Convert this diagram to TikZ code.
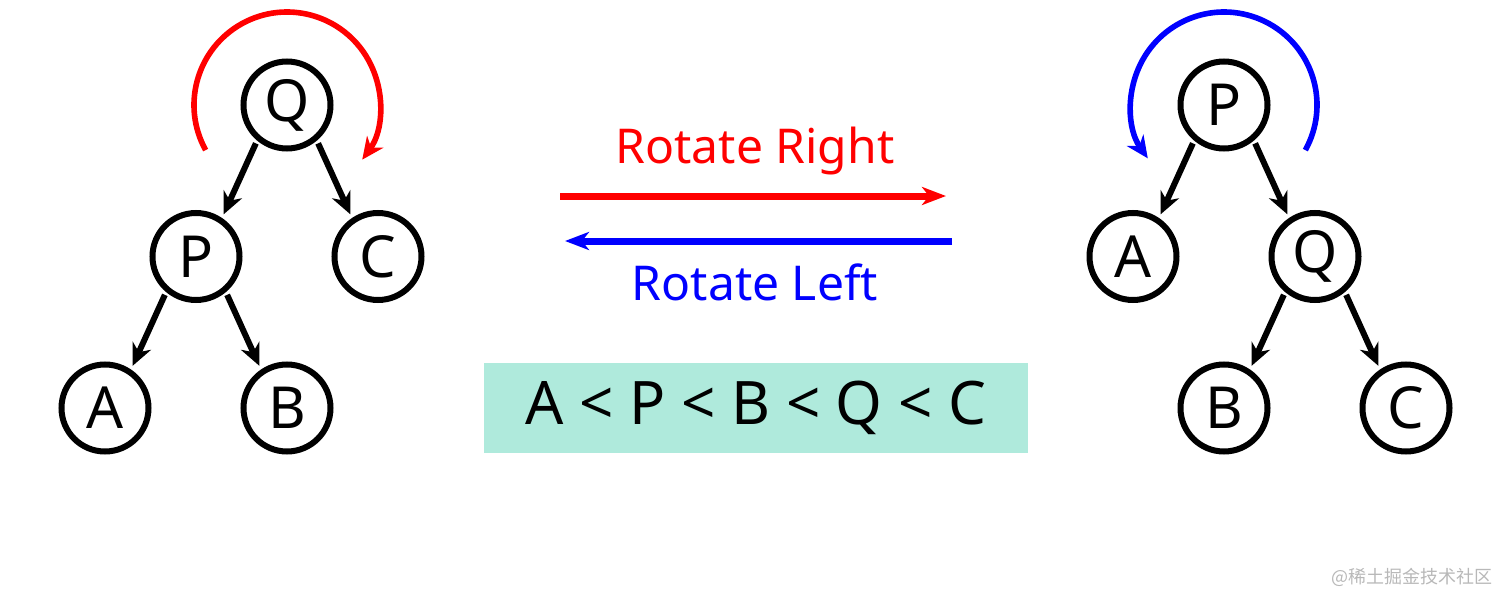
\documentclass[tikz,border=0pt]{standalone}
\usepackage{fontspec}
\setmainfont{Noto Sans}
\newfontfamily\cjk{Noto Sans CJK SC}
\usetikzlibrary{positioning,arrows.meta}
\definecolor{mint}{RGB}{175,234,220}

\begin{document}
\begin{tikzpicture}[x=0.5pt,y=0.5pt,
    vert/.style={draw, circle, line width=3pt, minimum size=43.5pt, inner sep=0pt, font=\fontsize{29}{30}\selectfont},
    link/.style={-{Stealth[length=11pt,width=10pt,inset=3.5pt]}, line width=3pt, shorten >=2pt, shorten <=1.5pt},
    turn/.style={-{Stealth[length=11pt,width=10pt,inset=3.5pt]}, line width=2.8pt},
    move/.style={-{Stealth[length=12pt,width=9pt,inset=3.5pt]}, line width=3.5pt},
    caption/.style={font=\fontsize{24}{26}\selectfont, anchor=base},
    on grid, node distance=75.75pt and 45.5pt]
    \useasboundingbox (0,0) rectangle (1512,-605);

    % left tree
    \node[vert] (lq) at (287,-105) {Q};
    \node[vert] (lp) [below left=of lq]  {P};
    \node[vert] (lc) [below right=of lq] {C};
    \node[vert] (la) [below left=of lp]  {A};
    \node[vert] (lb) [below right=of lp] {B};
    \draw [link] (lq.-130) -- (lp.56);
    \draw [link] (lq.-50) -- (lc.124);
    \draw [link] (lp.-130) -- (la.56);
    \draw [link] (lp.-50) -- (lb.124);

    % right tree
    \node[vert] (rp) at (1224,-105) {P};
    \node[vert] (ra) [below left=of rp]  {A};
    \node[vert] (rq) [below right=of rp] {Q};
    \node[vert] (rb) [below left=of rq]  {B};
    \node[vert] (rc) [below right=of rq] {C};
    \draw [link] (rp.-130) -- (ra.56);
    \draw [link] (rp.-50) -- (rq.124);
    \draw [link] (rq.-130) -- (rb.56);
    \draw [link] (rq.-50) -- (rc.124);

    % rotation arcs
    \draw [turn, red] ([shift={(209:46.5pt)}]lq.center) arc[start angle=209, end angle=-36, radius=46.5pt];
    \draw [turn, blue] ([shift={(-29:46.5pt)}]rp.center) arc[start angle=-29, end angle=215, radius=46.5pt];

    % middle arrows
    \coordinate (r1) at (560,-196);
    \coordinate (r2) at (946,-196);
    \coordinate (l1) at (952,-241);
    \coordinate (l2) at (565,-241);
    \draw [move, red] (r1) -- (r2);
    \draw [move, blue] (l1) -- (l2);
    \node[caption, text=red] (right) at (755,-163) {Rotate Right};
    \node[caption, text=blue] (left) at (755,-300) {Rotate Left};

    % ordering
    \node[fill=mint, minimum width=272pt, minimum height=45pt, font=\fontsize{30}{32}\selectfont] (order) at (756,-408) {A < P < B < Q < C};

    \node[font=\cjk\fontsize{9}{10}\selectfont, text=black!28, anchor=east] (mark) at (1500,-577) {@稀土掘金技术社区};
\end{tikzpicture}
\end{document}
